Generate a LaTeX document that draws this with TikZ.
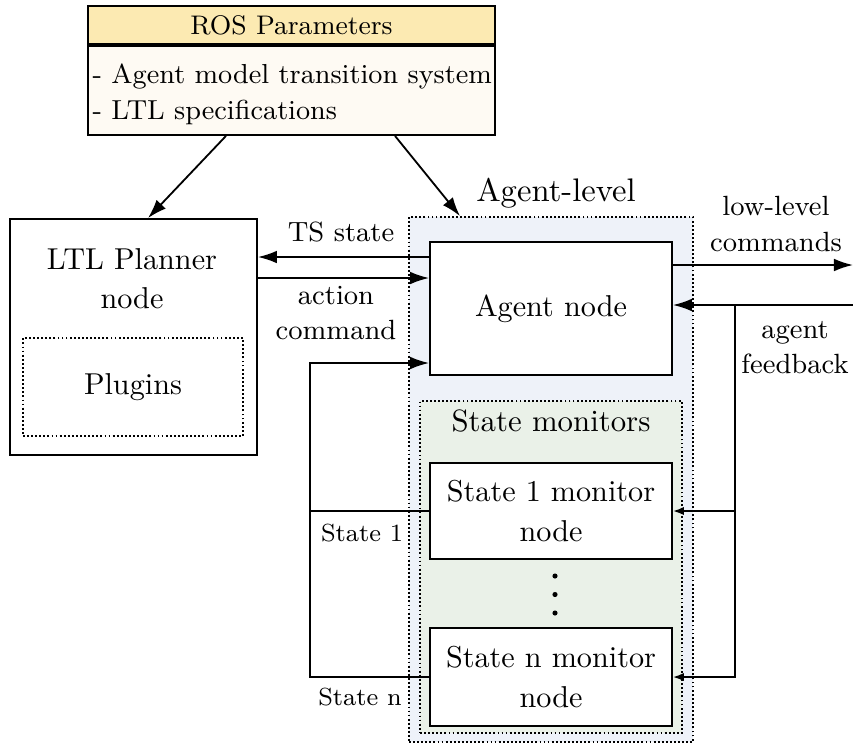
\documentclass[tikz,border=0pt]{standalone}
\usetikzlibrary{arrows.meta,calc}
\definecolor{hdr}{RGB}{252,234,178}
\definecolor{bdy}{RGB}{254,250,243}
\definecolor{lvl}{RGB}{238,242,249}
\definecolor{mon}{RGB}{234,241,232}
\newcommand{\fsMain}{\fontsize{10}{13}\selectfont}
\newcommand{\fsMon}{\fontsize{10}{13.2}\selectfont}
\newcommand{\fsMonHead}{\fontsize{10.2}{13}\selectfont}
\newcommand{\fsRosHead}{\fontsize{8.9}{11}\selectfont}
\newcommand{\fsRos}{\fontsize{9.1}{11.9}\selectfont}
\newcommand{\fsLbl}{\fontsize{9.2}{11.6}\selectfont}
\newcommand{\fsSmall}{\fontsize{8.2}{10}\selectfont}
\newcommand{\fsLevel}{\fontsize{10.8}{13}\selectfont}
\begin{document}
\begin{tikzpicture}[x=0.331pt,y=-0.331pt,
  box/.style={draw,line width=0.6pt,rectangle,inner sep=0pt},
  dotbox/.style={draw,line width=0.6pt,dash pattern=on 0.6pt off 0.75pt,rectangle,inner sep=0pt},
  conn/.style={line width=0.6pt,-{Latex[length=6.3pt,width=4.2pt]}},
  plain/.style={line width=0.6pt},
  sconn/.style={line width=0.6pt,-{Latex[length=3.6pt,width=2.7pt]}},
  lbl/.style={inner sep=0pt,align=center,font=\fsLbl}]
\useasboundingbox (0,0) rectangle (853,744);

% ROS parameters
\node[box,fill=bdy,minimum width=407*0.331pt,minimum height=89*0.331pt] (rosb) at (291.5,90.5) {};
\node[box,fill=hdr,minimum width=407*0.331pt,minimum height=38*0.331pt,
      font=\fsRosHead,anchor=south] (rosh) at (rosb.north) {ROS Parameters};
\node[inner sep=0pt,align=left,font=\fsRos,anchor=west] (rostxt) at (92,94)
      {- Agent model transition system\\- LTL specifications};

% LTL planner
\node[box,minimum width=247*0.331pt,minimum height=236*0.331pt] (ltl) at (133.5,337) {};
\node[inner sep=0pt,align=center,font=\fsMain] (ltltxt) at (132,279) {LTL Planner\\node};
\node[dotbox,minimum width=220*0.331pt,minimum height=98*0.331pt,font=\fsMain] (plug) at (133,387) {Plugins};

% Agent level
\node[dotbox,fill=lvl,minimum width=284*0.331pt,minimum height=525*0.331pt] (alevel) at (551,479.5) {};
\node[inner sep=0pt,font=\fsLevel] (alevtxt) at (556,193) {Agent-level};
\node[dotbox,fill=mon,minimum width=262*0.331pt,minimum height=332*0.331pt] (smon) at (551,567) {};
\node[inner sep=0pt,font=\fsMonHead] (smontxt) at (551,421) {State monitors};

\node[box,fill=white,minimum width=242*0.331pt,minimum height=133*0.331pt,font=\fsMain] (agent) at (551,308.5) {Agent node};
\node[box,fill=white,minimum width=242*0.331pt,minimum height=96*0.331pt,align=center,font=\fsMon] (s1) at (551,511) {State 1 monitor\\node};
\node[box,fill=white,minimum width=242*0.331pt,minimum height=98*0.331pt,align=center,font=\fsMon] (sn) at (551,677) {State n monitor\\node};

\foreach \yy in {576,594.5,613} \fill (555,\yy) circle[radius=0.85pt];

% connectors from ROS
\draw[conn] ($(rosb.south)+(-65.5,0)$) -- ($(ltl.north)+(14.5,0)$);
\draw[conn] ($(rosb.south)+(103.5,0)$) -- ($(alevel.north)+(-91,0)$);

% planner <-> agent
\draw[conn] (agent.west |- 0,257) -- (ltl.east |- 0,257);
\draw[conn] (ltl.east |- 0,278) -- (agent.west |- 0,278);
\node[lbl] (tslbl) at (341,232) {TS state};
\node[lbl] (aclbl) at (336,313) {action\\command};

% state feedback loop
\coordinate (busL) at (310,363);
\draw[conn] (s1.west) -| (busL) -- (agent.west |- busL);
\draw[plain] (sn.west) -| (s1.west -| busL);
\node[inner sep=0pt,font=\fsSmall] (st1lbl) at (362,533) {State 1};
\node[inner sep=0pt,font=\fsSmall] (stnlbl) at (360,697) {State n};

% low-level commands and feedback
\coordinate (llend) at (853,265);
\coordinate (fbstart) at (853,305);
\coordinate (busR) at (735,305);
\draw[conn] (agent.east |- llend) -- (llend);
\draw[conn] (fbstart) -- (agent.east |- fbstart);
\draw[sconn] (busR) |- (sn.east);
\draw[sconn] (s1.east -| busR) -- (s1.east);
\node[lbl] (lllbl) at (776,224) {low-level\\commands};
\node[lbl] (fblbl) at (795,348) {agent\\feedback};
\end{tikzpicture}
\end{document}
